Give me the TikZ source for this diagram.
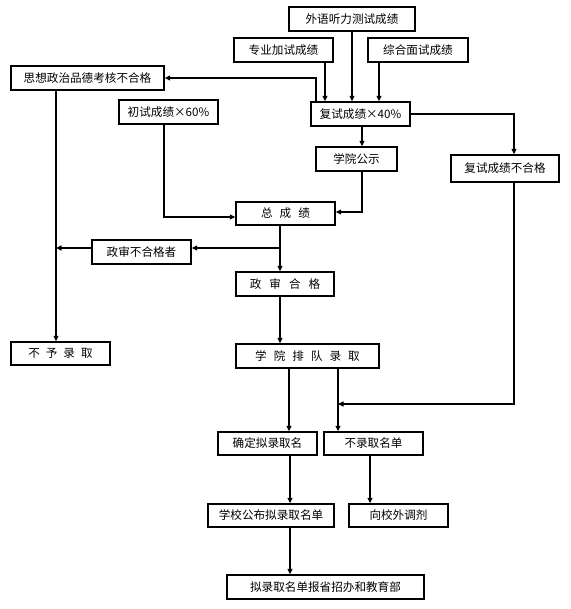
\documentclass[tikz,border=0pt]{standalone}
\usepackage{fontspec}
\newfontfamily\cjk{Noto Sans CJK SC}
\usetikzlibrary{arrows.meta}
\newcommand\gapx[1]{\hspace{#1pt}}
\begin{document}
\begin{tikzpicture}[x=1pt,y=-1pt,
  box/.style={draw, line width=1.4pt, inner sep=0pt, anchor=center,
    font=\cjk\fontsize{11.6}{13}\selectfont, minimum height=24pt},
  arr/.style={line width=1.2pt, -{Triangle[length=5.5pt,width=5pt]}}]
\useasboundingbox[fill=white] (0,0) rectangle (570,609);

% boxes
\node[box, minimum width=126pt] (wy) at (352,19) {外语听力测试成绩};
\node[box, minimum width=99pt] (zy) at (283.5,50) {专业加试成绩};
\node[box, minimum width=100pt] (zh) at (418,50) {综合面试成绩};
\node[box, minimum width=153pt] (sx) at (87.5,78) {思想政治品德考核不合格};
\node[box, minimum width=99pt] (cs) at (168.5,112) {初试成绩×60\%};
\node[box, minimum width=99pt] (fs) at (360.5,114) {复试成绩×40\%};
\node[box, minimum width=81pt] (gs) at (356.5,159) {学院公示};
\node[box, minimum width=108pt, minimum height=27pt] (fb) at (505,168.5) {复试成绩不合格};
\node[box, minimum width=99pt, minimum height=23pt] (zc) at (285.5,213.5) {总\gapx{7}成\gapx{7}绩};
\node[box, minimum width=99pt] (zb) at (141.5,252) {政审不合格者};
\node[box, minimum width=98pt] (zg) at (285,284) {政\gapx{8}审\gapx{8}合\gapx{8}格};
\node[box, minimum width=99pt, minimum height=23pt] (by) at (60.5,353.5) {不\gapx{6}予\gapx{6}录\gapx{6}取};
\node[box, minimum width=143pt] (pd) at (307.5,356) {学\gapx{7}院\gapx{7}排\gapx{7}队\gapx{7}录\gapx{7}取};
\node[box, minimum width=99pt, minimum height=23pt] (qd) at (267.5,443.5) {确定拟录取名};
\node[box, minimum width=99pt, minimum height=23pt] (bl) at (373.5,443.5) {不录取名单};
\node[box, minimum width=126pt, minimum height=23pt] (xg) at (271,515.5) {学校公布拟录取名单};
\node[box, minimum width=99pt, minimum height=23pt] (xw) at (398.5,515.5) {向校外调剂};
\node[box, minimum width=197pt] (nl) at (325.5,587) {拟录取名单报省招办和教育部};

% junction coordinates
\coordinate (j1) at (280,248);
\coordinate (j2) at (514,404);
\coordinate (j3) at (338,404);

% connectors into 复试
\draw[arr] (wy.south) -- (wy.south |- fs.north);
\draw[arr] (325,0 |- zy.south) -- (325,0 |- fs.north);
\draw[arr] (379,0 |- zh.south) -- (379,0 |- fs.north);
% 复试 -> 思想 不合格
\draw[arr] (316,0 |- fs.north) -- (316,0 |- sx.east) -- (sx.east);
% 复试 -> 复试成绩不合格
\draw[arr] (fs.east) -- (514,0 |- fs.east) -- (514,0 |- fb.north);
% 复试 -> 学院公示
\draw[arr] (362,0 |- fs.south) -- (362,0 |- gs.north);
% 学院公示 -> 总成绩
\draw[arr] (362,0 |- gs.south) -- (362,212) -- (zc.east |- 0,212);
% 初试 -> 总成绩
\draw[arr] (164,0 |- cs.south) -- (164,217) -- (zc.west |- 0,217);
% 总成绩 -> 政审合格
\draw[arr] (280,0 |- zc.south) -- (280,0 |- zg.north);
% branch -> 政审不合格者
\draw[arr] (j1) -- (zb.east |- j1);
\draw[arr] (zb.west |- j1) -- (56,248);
% 思想 -> 不予录取
\draw[arr] (56,0 |- sx.south) -- (56,0 |- by.north);
% 政审合格 -> 学院排队录取
\draw[arr] (280,0 |- zg.south) -- (280,0 |- pd.north);
% 学院排队录取 -> 确定 / 不录取
\draw[arr] (289,0 |- pd.south) -- (289,0 |- qd.north);
\draw[arr] (338,0 |- pd.south) -- (338,0 |- bl.north);
% 复试成绩不合格 -> 不录取名单 line
\draw[arr] (514,0 |- fb.south) -- (j2) -- (j3);
% lower chain
\draw[arr] (290,0 |- qd.south) -- (290,0 |- xg.north);
\draw[arr] (370,0 |- bl.south) -- (370,0 |- xw.north);
\draw[arr] (290,0 |- xg.south) -- (290,0 |- nl.north);
\end{tikzpicture}
\end{document}
